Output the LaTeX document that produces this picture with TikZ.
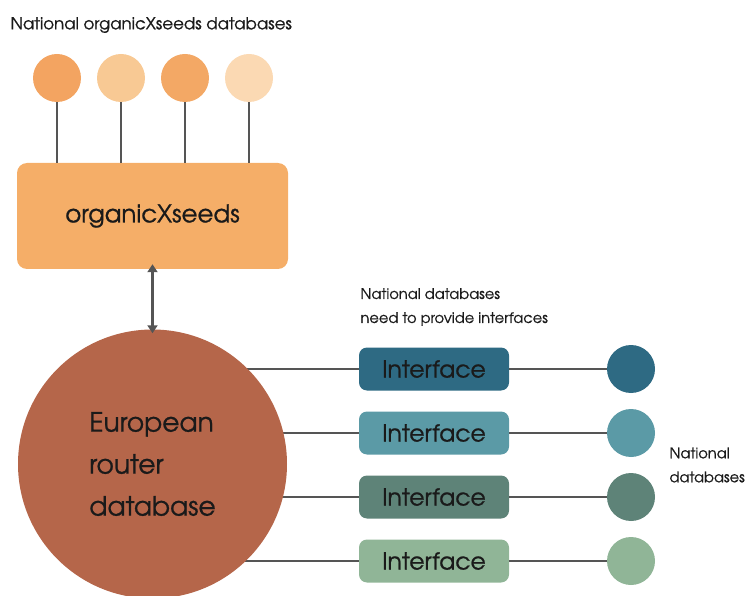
\documentclass[tikz,border=0pt]{standalone}
\usepackage{fontspec}
\setmainfont{texgyreadventor-regular.otf}[FakeBold=0.8]
\usetikzlibrary{arrows.meta,backgrounds}
\definecolor{linegray}{HTML}{555555}
\definecolor{txt}{HTML}{1A1A1A}
\definecolor{boxor}{HTML}{F5AE68}
\definecolor{oc1}{HTML}{F3A461}
\definecolor{oc2}{HTML}{F8C994}
\definecolor{oc3}{HTML}{F3A865}
\definecolor{oc4}{HTML}{FBD9B3}
\definecolor{erdc}{HTML}{B5664A}
\definecolor{t1}{HTML}{2E6A83}
\definecolor{t2}{HTML}{5B9AA6}
\definecolor{t3}{HTML}{5E8378}
\definecolor{t4}{HTML}{90B597}
\begin{document}
\begin{tikzpicture}[x=1pt,y=-1pt,
  every node/.style={text=txt},
  topc/.style={circle, minimum size=48pt, inner sep=0pt},
  conn/.style={draw=linegray, line width=1.5pt},
  ifbox/.style={rounded corners=8pt, minimum width=150pt, minimum height=43pt, inner sep=0pt, font=\fontsize{23.5}{24}\selectfont},
  ndc/.style={circle, minimum size=48pt, inner sep=0pt},
  lbl/.style={font=\fontsize{14.6}{24}\selectfont, align=left, anchor=west}
]
\useasboundingbox (0,0) rectangle (750,596);
% title
\node[font=\fontsize{16.6}{18}\selectfont, anchor=west] (title) at (7,25) {National organicXseeds databases};
% top circles
\node[topc, fill=oc1] (c1) at (57,78) {};
\node[topc, fill=oc2] (c2) at (121,78) {};
\node[topc, fill=oc3] (c3) at (185,78) {};
\node[topc, fill=oc4] (c4) at (249,78) {};
% organicXseeds box
\node[fill=boxor, rounded corners=10pt, minimum width=271pt, minimum height=106pt, inner sep=0pt,
      font=\fontsize{24.5}{26}\selectfont] (ox) at (152.5,216) {organicXseeds};
\foreach \i in {1,...,4} \draw[conn] (c\i.south) -- (c\i.south |- ox.north);
% European router database
\node[circle, fill=erdc, minimum size=269pt, inner sep=0pt, align=left,
      font=\fontsize{26.5}{42}\selectfont] (erd) at (152.5,464) {European\\router\\database};
\draw[draw=linegray, line width=3pt, {Triangle[length=8pt,width=10pt]}-{Triangle[length=8pt,width=10pt]}]
  ([yshift=5pt]ox.south) -- ([yshift=-4pt]erd.north);
% interfaces
\node[ifbox, fill=t1] (i1) at (434,369) {Interface};
\node[ifbox, fill=t2] (i2) at (434,433) {Interface};
\node[ifbox, fill=t3] (i3) at (434,497) {Interface};
\node[ifbox, fill=t4] (i4) at (434,561) {Interface};
\node[ndc, fill=t1] (n1) at (631,369) {};
\node[ndc, fill=t2] (n2) at (631,433) {};
\node[ndc, fill=t3] (n3) at (631,497) {};
\node[ndc, fill=t4] (n4) at (631,561) {};
\begin{scope}[on background layer]
\foreach \i in {1,...,4} {
  \draw[conn] (i\i.west) -- (i\i.west -| erd.center);
}
\end{scope}
\foreach \i in {1,...,4} \draw[conn] (i\i.east) -- (n\i.west);
% labels
\node[lbl] (l1) at (357,307) {National databases\\need to provide interfaces};
\node[lbl] (l2) at (666,465) {National\\databases};
\end{tikzpicture}
\end{document}
